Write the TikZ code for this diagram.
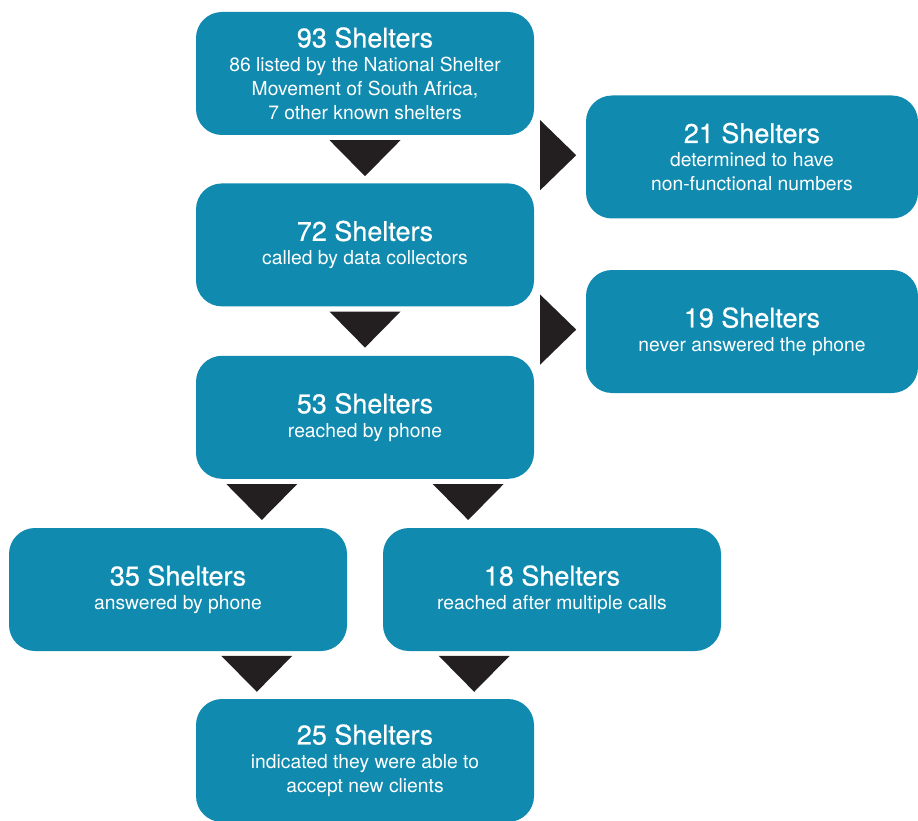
\documentclass[tikz,border=0pt]{standalone}
\usepackage{fontspec}
\setmainfont{TeX Gyre Heros}
\newfontfamily\headfont{TeX Gyre Heros}[FakeBold=0.6]
\usetikzlibrary{positioning,calc}
\definecolor{shelterblue}{RGB}{16,138,174}
\definecolor{tridark}{RGB}{35,31,32}
\newcommand{\headline}[1]{{\headfont\fontsize{27}{27}\selectfont #1}\\[0pt]}

\begin{document}
\begin{tikzpicture}[x=1pt,y=1pt,
  box/.style={rectangle,rounded corners=26pt,fill=shelterblue,text=white,
    minimum width=338pt,minimum height=123pt,inner sep=0pt,align=center,
    font=\fontsize{19.3}{24}\selectfont},
  tri/.style={fill=tridark}]
  \useasboundingbox (0,0) rectangle (918,-821);

  \node[box] (b93) at (365,-73.5) {\headline{93 Shelters}86 listed by the National Shelter\\Movement of South Africa,\\7 other known shelters};
  \node[box] (b72) [below=48pt of b93] {\headline{72 Shelters}called by data collectors};
  \node[box] (b53) [below=49pt of b72] {\headline{53 Shelters}reached by phone};
  \node[box, minimum width=332pt] (b21) at (752,-157) {\headline{21 Shelters}determined to have\\non-functional numbers};
  \node[box, minimum width=332pt] (b19) at (752,-331.5) {\headline{19 Shelters}never answered the phone};
  \node[box] (b35) at (178,-589.5) {\headline{35 Shelters}answered by phone};
  \node[box] (b18) at (552,-589.5) {\headline{18 Shelters}reached after multiple calls};
  \node[box] (b25) at (365,-760.5) {\headline{25 Shelters}indicated they were able to\\accept new clients};

  % down pointers
  \coordinate (d1) at ($(b93.south)+(0,-5)$);
  \coordinate (d2) at ($(b72.south)+(0,-5)$);
  \coordinate (d3) at ($(b53.south west)+(66,-5)$);
  \coordinate (d4) at ($(b53.south east)+(-66,-5)$);
  \coordinate (d5) at ($(b25.north west)+(61,43)$);
  \coordinate (d6) at ($(b25.north east)+(-60,43)$);
  \foreach \c in {d1,d2,d3,d4,d5,d6}
    \fill[tri] (\c) ++(-35.5,0) -- ++(71,0) -- ++(-35.5,-36) -- cycle;

  % side pointers
  \coordinate (r1) at ($(b93.south east)+(6,-20)$);
  \coordinate (r2) at ($(b72.south east)+(6,-23)$);
  \foreach \c in {r1,r2}
    \fill[tri] (\c) ++(0,35) -- ++(0,-70) -- ++(36,35) -- cycle;
\end{tikzpicture}
\end{document}
